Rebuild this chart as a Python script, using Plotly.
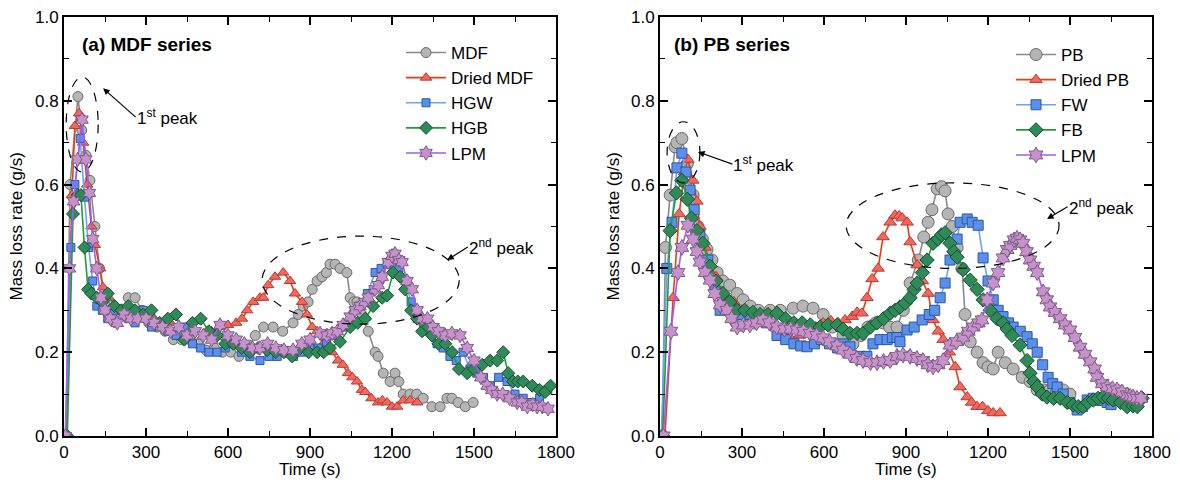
import plotly.graph_objects as go

# ---------------- (a) MDF series ----------------
mdf_t = [8, 22, 51, 65, 80, 95, 113, 130, 150, 170, 190, 210, 235, 260, 285, 310, 340, 370, 400, 430, 460, 490, 520, 550, 580, 610, 640, 670, 700, 730, 765, 800, 838, 857, 875, 893, 908, 926, 944, 960, 973, 992, 1010, 1035, 1047, 1060, 1072, 1090, 1113, 1138, 1149, 1168, 1193, 1211, 1225, 1241, 1266, 1290, 1314, 1346, 1376, 1401, 1419, 1442, 1468, 1497]
mdf_v = [0.0, 0.60, 0.81, 0.73, 0.67, 0.61, 0.50, 0.40, 0.32, 0.28, 0.27, 0.30, 0.33, 0.33, 0.30, 0.27, 0.26, 0.25, 0.23, 0.23, 0.23, 0.22, 0.205, 0.21, 0.20, 0.20, 0.19, 0.21, 0.24, 0.26, 0.26, 0.25, 0.27, 0.29, 0.31, 0.32, 0.35, 0.37, 0.38, 0.39, 0.41, 0.41, 0.40, 0.39, 0.33, 0.32, 0.32, 0.29, 0.25, 0.20, 0.19, 0.15, 0.13, 0.15, 0.13, 0.10, 0.10, 0.10, 0.09, 0.07, 0.07, 0.09, 0.09, 0.08, 0.07, 0.08]

dmdf_t = [8, 29, 40, 55, 70, 85, 100, 113, 132, 143, 165, 190, 215, 240, 270, 300, 330, 360, 390, 420, 450, 480, 510, 540, 570, 600, 630, 651, 670, 692, 717, 729, 747, 772, 802, 827, 845, 871, 889, 908, 926, 948, 981, 1003, 1020, 1039, 1055, 1072, 1090, 1102, 1125, 1149, 1165, 1182, 1200, 1219, 1241, 1266, 1292]
dmdf_v = [0.0, 0.575, 0.74, 0.77, 0.70, 0.60, 0.50, 0.456, 0.40, 0.355, 0.33, 0.31, 0.30, 0.29, 0.28, 0.29, 0.28, 0.27, 0.27, 0.26, 0.25, 0.25, 0.24, 0.25, 0.26, 0.265, 0.27, 0.28, 0.30, 0.32, 0.33, 0.33, 0.36, 0.38, 0.39, 0.37, 0.34, 0.32, 0.29, 0.26, 0.25, 0.22, 0.20, 0.18, 0.17, 0.15, 0.14, 0.13, 0.11, 0.105, 0.09, 0.08, 0.085, 0.08, 0.07, 0.07, 0.085, 0.085, 0.08]

hgw_t = [5, 25, 40, 59, 75, 90, 105, 120, 140, 160, 185, 210, 235, 260, 290, 320, 350, 380, 410, 440, 470, 500, 530, 560, 590, 620, 650, 680, 717, 750, 780, 810, 840, 870, 900, 930, 960, 990, 1020, 1050, 1080, 1110, 1138, 1160, 1182, 1204, 1225, 1248, 1270, 1292, 1315, 1340, 1365, 1387, 1412, 1435, 1460, 1485, 1510, 1535, 1560, 1590, 1621, 1650, 1680, 1710, 1740, 1770]
hgw_v = [0.0, 0.45, 0.60, 0.71, 0.57, 0.45, 0.37, 0.31, 0.30, 0.28, 0.30, 0.30, 0.28, 0.27, 0.30, 0.26, 0.27, 0.25, 0.24, 0.26, 0.22, 0.21, 0.20, 0.20, 0.21, 0.22, 0.20, 0.19, 0.18, 0.19, 0.19, 0.20, 0.19, 0.20, 0.21, 0.21, 0.22, 0.24, 0.26, 0.28, 0.31, 0.34, 0.39, 0.40, 0.41, 0.43, 0.40, 0.37, 0.32, 0.28, 0.26, 0.25, 0.22, 0.21, 0.19, 0.18, 0.20, 0.16, 0.15, 0.14, 0.12, 0.14, 0.13, 0.10, 0.09, 0.08, 0.09, 0.11]

hgb_t = [12, 33, 50, 62, 75, 88, 100, 120, 140, 160, 185, 210, 235, 260, 290, 320, 350, 380, 410, 440, 470, 500, 530, 560, 590, 620, 650, 680, 710, 743, 775, 805, 835, 865, 895, 926, 950, 973, 1010, 1047, 1075, 1102, 1131, 1164, 1182, 1204, 1230, 1248, 1270, 1292, 1310, 1332, 1346, 1370, 1395, 1420, 1445, 1475, 1500, 1530, 1559, 1585, 1607, 1625, 1643, 1660, 1680, 1713, 1740, 1760, 1780]
hgb_v = [0.0, 0.53, 0.575, 0.575, 0.45, 0.35, 0.34, 0.33, 0.32, 0.34, 0.31, 0.30, 0.31, 0.30, 0.29, 0.30, 0.27, 0.28, 0.29, 0.23, 0.27, 0.28, 0.25, 0.24, 0.22, 0.22, 0.21, 0.20, 0.21, 0.205, 0.20, 0.20, 0.19, 0.21, 0.20, 0.20, 0.20, 0.21, 0.225, 0.26, 0.27, 0.28, 0.31, 0.33, 0.335, 0.39, 0.38, 0.35, 0.30, 0.28, 0.25, 0.26, 0.24, 0.22, 0.22, 0.20, 0.16, 0.15, 0.16, 0.17, 0.18, 0.18, 0.20, 0.15, 0.13, 0.13, 0.13, 0.12, 0.11, 0.105, 0.12]

lpma_t = [5, 20, 35, 50, 66, 80, 93, 105, 120, 135, 150, 170, 195, 220, 245, 270, 300, 330, 360, 390, 420, 450, 480, 510, 540, 571, 600, 630, 660, 690, 717, 745, 775, 805, 838, 870, 900, 937, 962, 981, 1000, 1021, 1047, 1065, 1083, 1100, 1113, 1138, 1150, 1164, 1186, 1200, 1211, 1225, 1237, 1255, 1274, 1292, 1310, 1330, 1350, 1370, 1395, 1419, 1449, 1475, 1500, 1525, 1548, 1565, 1585, 1605, 1630, 1658, 1675, 1695, 1715, 1731, 1750, 1771]
lpma_v = [0.0, 0.40, 0.56, 0.66, 0.755, 0.66, 0.58, 0.47, 0.40, 0.33, 0.30, 0.28, 0.27, 0.29, 0.28, 0.28, 0.28, 0.27, 0.26, 0.25, 0.26, 0.24, 0.25, 0.24, 0.23, 0.265, 0.24, 0.23, 0.22, 0.21, 0.21, 0.22, 0.21, 0.205, 0.205, 0.22, 0.23, 0.245, 0.24, 0.245, 0.25, 0.265, 0.285, 0.30, 0.31, 0.32, 0.33, 0.35, 0.36, 0.38, 0.415, 0.43, 0.435, 0.42, 0.415, 0.37, 0.35, 0.30, 0.28, 0.28, 0.26, 0.25, 0.24, 0.245, 0.24, 0.21, 0.18, 0.14, 0.12, 0.11, 0.10, 0.10, 0.09, 0.08, 0.08, 0.07, 0.075, 0.07, 0.07, 0.065]

# ---------------- (b) PB series ----------------
pb_t = [8, 20, 37, 55, 62, 80, 100, 121, 139, 155, 172, 190, 209, 230, 255, 282, 304, 330, 360, 403, 440, 487, 523, 560, 597, 630, 670, 706, 735, 761, 790, 815, 840, 867, 890, 915, 945, 965, 981, 995, 1014, 1030, 1043, 1054, 1069, 1087, 1105, 1116, 1135, 1160, 1182, 1200, 1219, 1237, 1263, 1292, 1325, 1354, 1380, 1405, 1427, 1450, 1475, 1500]
pb_v = [0.0, 0.45, 0.575, 0.69, 0.70, 0.71, 0.65, 0.575, 0.50, 0.47, 0.445, 0.42, 0.39, 0.37, 0.36, 0.34, 0.325, 0.31, 0.30, 0.30, 0.30, 0.305, 0.31, 0.305, 0.29, 0.26, 0.24, 0.22, 0.24, 0.26, 0.27, 0.27, 0.26, 0.26, 0.30, 0.365, 0.42, 0.475, 0.51, 0.54, 0.59, 0.595, 0.585, 0.53, 0.50, 0.45, 0.40, 0.29, 0.225, 0.20, 0.175, 0.165, 0.16, 0.20, 0.175, 0.16, 0.14, 0.13, 0.11, 0.11, 0.11, 0.105, 0.11, 0.10]

dpb_t = [18, 48, 70, 90, 102, 120, 135, 146, 165, 185, 205, 220, 245, 270, 300, 330, 360, 390, 420, 450, 476, 510, 540, 570, 597, 625, 652, 677, 703, 721, 739, 757, 776, 798, 816, 842, 860, 875, 886, 904, 915, 941, 960, 981, 999, 1018, 1036, 1058, 1080, 1098, 1124, 1140, 1160, 1180, 1200, 1219, 1244]
dpb_v = [0.0, 0.33, 0.53, 0.63, 0.66, 0.61, 0.56, 0.50, 0.45, 0.41, 0.38, 0.345, 0.33, 0.32, 0.30, 0.29, 0.28, 0.27, 0.26, 0.25, 0.235, 0.24, 0.25, 0.26, 0.27, 0.275, 0.27, 0.277, 0.285, 0.295, 0.293, 0.33, 0.375, 0.40, 0.475, 0.51, 0.527, 0.525, 0.52, 0.51, 0.463, 0.408, 0.37, 0.34, 0.277, 0.25, 0.23, 0.20, 0.165, 0.117, 0.093, 0.08, 0.07, 0.07, 0.06, 0.055, 0.055]

fw_t = [5, 25, 44, 62, 80, 95, 110, 125, 146, 175, 200, 220, 245, 270, 300, 329, 360, 390, 428, 460, 490, 515, 538, 565, 590, 620, 650, 670, 695, 732, 757, 779, 805, 831, 850, 867, 878, 904, 930, 959, 985, 1005, 1025, 1043, 1061, 1087, 1098, 1124, 1142, 1164, 1182, 1200, 1219, 1237, 1255, 1275, 1292, 1318, 1343, 1362, 1380, 1400, 1420, 1437, 1453, 1475, 1500, 1526, 1545, 1563, 1585, 1610, 1636, 1650]
fw_v = [0.0, 0.40, 0.51, 0.64, 0.675, 0.63, 0.587, 0.54, 0.48, 0.42, 0.36, 0.30, 0.31, 0.30, 0.29, 0.29, 0.28, 0.27, 0.24, 0.23, 0.22, 0.215, 0.213, 0.22, 0.23, 0.22, 0.21, 0.22, 0.213, 0.19, 0.19, 0.22, 0.23, 0.23, 0.235, 0.235, 0.225, 0.253, 0.26, 0.277, 0.29, 0.30, 0.33, 0.365, 0.42, 0.47, 0.51, 0.518, 0.51, 0.503, 0.425, 0.37, 0.325, 0.30, 0.285, 0.27, 0.26, 0.25, 0.237, 0.22, 0.20, 0.17, 0.14, 0.125, 0.117, 0.10, 0.08, 0.062, 0.07, 0.086, 0.09, 0.085, 0.08, 0.075]

fb_t = [10, 37, 60, 80, 100, 115, 135, 157, 183, 205, 230, 255, 282, 310, 340, 366, 395, 428, 460, 490, 520, 550, 586, 615, 648, 670, 695, 721, 743, 770, 794, 818, 842, 860, 878, 897, 915, 930, 941, 960, 977, 999, 1017, 1030, 1043, 1061, 1075, 1087, 1109, 1135, 1160, 1182, 1208, 1233, 1255, 1270, 1288, 1317, 1343, 1354, 1367, 1380, 1398, 1416, 1440, 1464, 1490, 1511, 1530, 1548, 1565, 1585, 1603, 1621, 1640, 1658, 1685, 1709, 1730, 1746, 1764]
fb_v = [0.0, 0.49, 0.58, 0.61, 0.565, 0.52, 0.49, 0.46, 0.405, 0.37, 0.34, 0.32, 0.30, 0.30, 0.295, 0.29, 0.29, 0.293, 0.28, 0.27, 0.27, 0.265, 0.26, 0.265, 0.265, 0.255, 0.245, 0.245, 0.245, 0.26, 0.27, 0.28, 0.293, 0.30, 0.308, 0.317, 0.33, 0.35, 0.365, 0.39, 0.42, 0.46, 0.47, 0.48, 0.485, 0.46, 0.44, 0.427, 0.397, 0.372, 0.35, 0.325, 0.30, 0.28, 0.27, 0.255, 0.24, 0.217, 0.18, 0.15, 0.13, 0.117, 0.10, 0.093, 0.09, 0.09, 0.08, 0.074, 0.07, 0.07, 0.08, 0.086, 0.09, 0.093, 0.09, 0.086, 0.08, 0.07, 0.072, 0.07, 0.09]

lpmb_t = [12, 40, 66, 80, 102, 121, 135, 146, 165, 183, 200, 220, 245, 262, 282, 305, 329, 353, 377, 400, 428, 455, 478, 501, 525, 549, 573, 597, 620, 648, 670, 695, 720, 743, 770, 794, 818, 842, 867, 889, 915, 940, 962, 980, 999, 1018, 1036, 1061, 1085, 1109, 1128, 1146, 1165, 1178, 1197, 1219, 1237, 1255, 1270, 1281, 1295, 1306, 1317, 1328, 1341, 1354, 1367, 1380, 1402, 1415, 1427, 1445, 1464, 1482, 1500, 1518, 1537, 1555, 1574, 1590, 1599, 1618, 1636, 1655, 1672, 1690, 1709, 1720, 1731, 1745, 1760]
lpmb_v = [0.0, 0.25, 0.39, 0.45, 0.503, 0.47, 0.44, 0.415, 0.39, 0.372, 0.34, 0.313, 0.30, 0.28, 0.26, 0.265, 0.265, 0.27, 0.277, 0.27, 0.26, 0.255, 0.255, 0.253, 0.25, 0.245, 0.24, 0.234, 0.225, 0.215, 0.205, 0.195, 0.185, 0.18, 0.175, 0.175, 0.178, 0.18, 0.19, 0.193, 0.19, 0.185, 0.18, 0.17, 0.165, 0.17, 0.18, 0.217, 0.225, 0.236, 0.25, 0.26, 0.27, 0.277, 0.325, 0.365, 0.39, 0.425, 0.445, 0.455, 0.468, 0.472, 0.468, 0.46, 0.44, 0.42, 0.405, 0.39, 0.344, 0.325, 0.308, 0.295, 0.28, 0.265, 0.253, 0.235, 0.212, 0.195, 0.177, 0.16, 0.14, 0.125, 0.117, 0.113, 0.11, 0.105, 0.098, 0.095, 0.093, 0.09, 0.09]

x_ticks = [0, 300, 600, 900, 1200, 1500, 1800]
y_ticks = [0.0, 0.2, 0.4, 0.6, 0.8, 1.0]
x_title = "Time (s)"
y_title = "Mass loss rate (g/s)"

FONT = "Arial, Liberation Sans, sans-serif"

styles = {
    "gray":   dict(line="#8a8a8a", fill="#b5b5b5", edge="#6a6a6a", symbol="circle"),
    "red":    dict(line="#e5400e", fill="#f4675f", edge="#b53a30", symbol="triangle-up"),
    "blue":   dict(line="#6ea2f7", fill="#5a90ec", edge="#2f559e", symbol="square"),
    "green":  dict(line="#1c9e34", fill="#2e8b57", edge="#1b4d30", symbol="diamond"),
    "purple": dict(line="#9a5ef5", fill="#c792cc", edge="#7a5a82", symbol="hexagram"),
}

fig = go.Figure()

def add(t, v, name, style, xa, ya, legend, msize):
    s = styles[style]
    fig.add_trace(go.Scatter(
        x=t, y=v, name=name, mode="lines+markers",
        xaxis=xa, yaxis=ya, legend=legend,
        line=dict(color=s["line"], width=1.6),
        marker=dict(symbol=s["symbol"], size=msize, color=s["fill"],
                    line=dict(color=s["edge"], width=1)),
    ))

add(mdf_t, mdf_v, "MDF", "gray", "x", "y", "legend", 10)
add(dmdf_t, dmdf_v, "Dried MDF", "red", "x", "y", "legend", 10)
add(hgw_t, hgw_v, "HGW", "blue", "x", "y", "legend", 8)
add(hgb_t, hgb_v, "HGB", "green", "x", "y", "legend", 10)
add(lpma_t, lpma_v, "LPM", "purple", "x", "y", "legend", 11)

add(pb_t, pb_v, "PB", "gray", "x2", "y2", "legend2", 12)
add(dpb_t, dpb_v, "Dried PB", "red", "x2", "y2", "legend2", 11)
add(fw_t, fw_v, "FW", "blue", "x2", "y2", "legend2", 10)
add(fb_t, fb_v, "FB", "green", "x2", "y2", "legend2", 11)
add(lpmb_t, lpmb_v, "LPM", "purple", "x2", "y2", "legend2", 12)

axis_common = dict(
    showline=True, linecolor="black", linewidth=1.8, mirror="allticks",
    ticks="inside", ticklen=8, tickwidth=1.5, tickcolor="black",
    showgrid=False, zeroline=False, automargin=False,
    tickfont=dict(family=FONT, size=17, color="black"),
)
xax = dict(axis_common, range=[0, 1800], tickvals=x_ticks,
           minor=dict(ticks="inside", ticklen=5, tickwidth=1.2, dtick=150, tick0=0, tickcolor="black"))
yax = dict(axis_common, range=[0, 1.0], tickvals=y_ticks, tickformat=".1f",
           minor=dict(ticks="inside", ticklen=5, tickwidth=1.2, dtick=0.1, tick0=0, tickcolor="black"))

W = 1152 - 64
H = 436 - 17
fig.update_layout(
    width=1180, height=488,
    margin=dict(l=64, r=28, t=17, b=52, autoexpand=False),
    paper_bgcolor="white", plot_bgcolor="white",
    font=dict(family=FONT, size=17, color="black"),
    xaxis=dict(xax, domain=[0, (556 - 64) / W], anchor="y"),
    yaxis=dict(yax, domain=[0, 1], anchor="x"),
    xaxis2=dict(xax, domain=[(660 - 64) / W, 1], anchor="y2"),
    yaxis2=dict(yax, domain=[0, 1], anchor="x2"),
    legend=dict(x=401 / 1180, y=1 - 35 / 488, xref="container", yref="container",
                xanchor="left", yanchor="top",
                bgcolor="rgba(0,0,0,0)", font=dict(family=FONT, size=17, color="black"),
                itemwidth=40),
    legend2=dict(x=1011 / 1180, y=1 - 37 / 488, xref="container", yref="container",
                 xanchor="left", yanchor="top",
                 bgcolor="rgba(0,0,0,0)", font=dict(family=FONT, size=17, color="black"),
                 itemwidth=40),
    showlegend=True,
)

# axis titles (as paper-anchored text)
title_font = dict(family=FONT, size=17, color="black")
for xc in [(310 - 64) / W, (906 - 64) / W]:
    fig.add_annotation(xref="paper", yref="paper", x=xc, y=(436 - 470) / H, text=x_title,
                       showarrow=False, xanchor="center", yanchor="middle", font=title_font)
for xc in [(16 - 64) / W, (613 - 64) / W]:
    fig.add_annotation(xref="paper", yref="paper", x=xc, y=0.5, text=y_title, textangle=-90,
                       showarrow=False, xanchor="center", yanchor="middle", font=title_font)

# dashed ellipses
ell = dict(type="circle", line=dict(color="black", width=1.2, dash="dash"), layer="above")
fig.add_shape(ell, xref="x", yref="y", x0=8, x1=125, y0=0.63, y1=0.857)
fig.add_shape(ell, xref="x", yref="y", x0=725, x1=1446, y0=0.267, y1=0.477)
fig.add_shape(ell, xref="x2", yref="y2", x0=26, x1=146, y0=0.604, y1=0.75)
fig.add_shape(ell, xref="x2", yref="y2", x0=681, x1=1460, y0=0.40, y1=0.604)

anno_font = dict(family=FONT, size=17, color="black")
# panel titles
fig.add_annotation(xref="x", yref="y", x=58, y=0.935, text="<b>(a) MDF series</b>",
                   showarrow=False, xanchor="left", yanchor="middle",
                   font=dict(family=FONT, size=19, color="black"))
fig.add_annotation(xref="x2", yref="y2", x=44, y=0.935, text="<b>(b) PB series</b>",
                   showarrow=False, xanchor="left", yanchor="middle",
                   font=dict(family=FONT, size=19, color="black"))

# peak labels with arrows (text sits at the arrow tail)
def peak(xr, yr, hx, hy, tailx, taily, label):
    fig.add_annotation(xref=xr, yref=yr, x=hx, y=hy, ax=tailx, ay=taily,
                       axref=xr, ayref=yr, text=label, showarrow=True,
                       xanchor="left", yanchor="middle", font=anno_font,
                       arrowhead=2, arrowsize=1.1, arrowwidth=1.2, arrowcolor="black",
                       standoff=0, borderpad=0)

peak("x", "y", 143, 0.83, 262, 0.761, "1<sup>st</sup> peak")
peak("x", "y", 1402, 0.42, 1477, 0.451, "2<sup>nd</sup> peak")
peak("x2", "y2", 139, 0.678, 265, 0.649, "1<sup>st</sup> peak")
peak("x2", "y2", 1416, 0.518, 1491, 0.547, "2<sup>nd</sup> peak")

fig.write_html("out.html", config={"displayModeBar": False},
               post_script="document.body.style.margin='0';")
